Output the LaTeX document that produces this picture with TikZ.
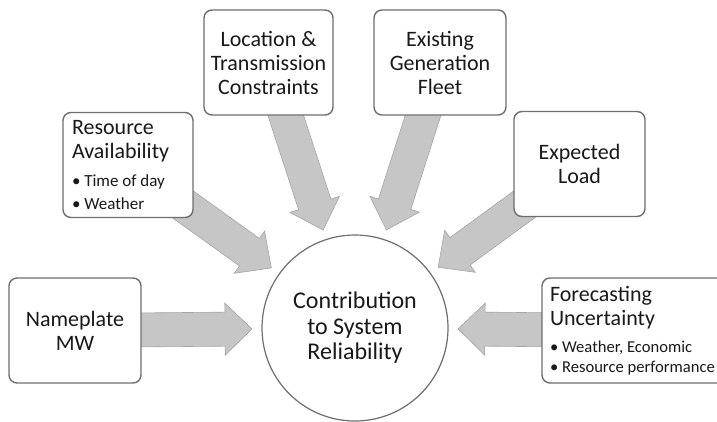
\documentclass[tikz,border=0pt]{standalone}
\usepackage{fontspec}
\setmainfont{Carlito}
\frenchspacing
\usetikzlibrary{calc,backgrounds}
\definecolor{boxline}{RGB}{110,110,110}
\definecolor{arrowfill}{RGB}{198,198,198}
\definecolor{arrowline}{RGB}{165,165,165}
\definecolor{txt}{RGB}{25,25,25}
\newcommand\blockarrow[1]{%
  \coordinate (T) at ($(circ.center)!103pt!(#1.center)$);
  \coordinate (H) at ($(T)!27pt!(#1.center)$);
  \filldraw[arrowstyle] (T) -- ($(H)!26pt!90:(T)$) -- ($(H)!17pt!90:(T)$)
    -- ($(#1.center)!17pt!90:(T)$) -- ($(#1.center)!17pt!-90:(T)$)
    -- ($(H)!17pt!-90:(T)$) -- ($(H)!26pt!-90:(T)$) -- cycle;}
\tikzset{
  box/.style={draw=boxline, line width=1.4pt, rounded corners=8pt, fill=white,
    text=txt, minimum height=105pt, inner sep=0pt, font=\fontsize{22}{24}\selectfont},
  cbox/.style={box, align=center},
  lbox/.style={box, align=flush left},
  arrowstyle/.style={fill=arrowfill, draw=arrowline, line width=0.6pt, line join=miter},
}
\begin{document}
\begin{tikzpicture}[x=1pt, y=-1pt]
\useasboundingbox (0,0) rectangle (717,421);
\node[circle, draw=boxline, line width=1.2pt, fill=white, minimum size=186pt,
  inner sep=0pt, align=center, text=txt, font=\fontsize{24}{25.5}\selectfont]
  (circ) at (355,328) {Contribution\\to System\\Reliability};
\node[cbox, minimum width=129pt] (loc) at (268.5,62.5) {Location \&\\Transmission\\Constraints};
\node[cbox, minimum width=132pt] (exi) at (440,62.5) {Existing\\Generation\\Fleet};
\node[cbox, minimum width=131pt] (exp) at (579.5,164) {Expected\\Load};
\node[cbox, minimum width=132pt] (np) at (75,330.5) {Nameplate\\MW};
\node[lbox, text width=112pt, inner xsep=9pt] (res) at (128,165)
  {Resource\\Availability\par\vspace{5pt}{\fontsize{17}{23}\selectfont • Time of day\\• Weather\par}};
\node[lbox, text width=167pt, inner xsep=8pt] (fc) at (633.5,330.5)
  {Forecasting\\Uncertainty\par\vspace{7pt}{\fontsize{16.6}{20}\selectfont • Weather, Economic\\• Resource performance\par}};
\begin{scope}[on background layer]
  \blockarrow{loc}
  \blockarrow{exi}
  \blockarrow{res}
  \blockarrow{exp}
  \blockarrow{np}
  \blockarrow{fc}
\end{scope}
\end{tikzpicture}
\end{document}
